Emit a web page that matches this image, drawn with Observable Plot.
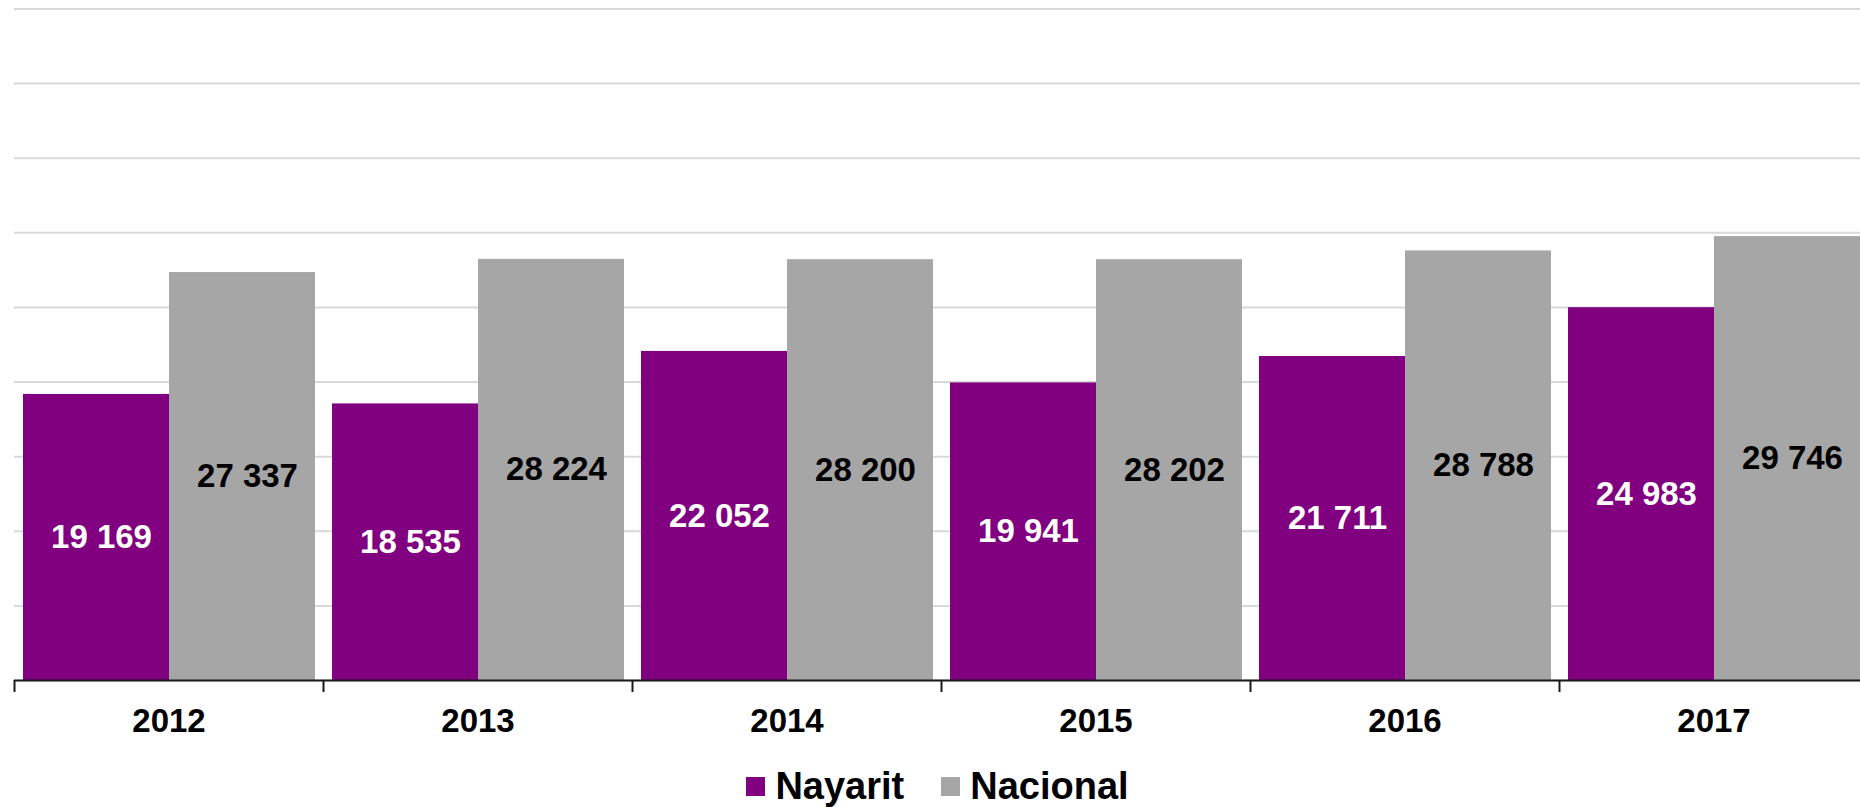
<!DOCTYPE html>
<html>
<head>
<meta charset="utf-8">
<script src="https://cdn.jsdelivr.net/npm/d3@7"></script>
<script src="https://cdn.jsdelivr.net/npm/@observablehq/plot@0.6"></script>
<style>
  html, body { margin: 0; padding: 0; background: #fff; overflow: hidden; }
  body { width: 1860px; height: 807px; font-family: "Liberation Sans", Arial, sans-serif; }
  #legend { height: 57px; box-sizing: border-box; padding-top: 14px; display: flex; justify-content: center; padding-left: 15px; font-weight: bold; font-size: 38px; color: #000; }
  .item { display: flex; align-items: center; height: 44px; }
  .sw { width: 19px; height: 19px; margin-right: 10px; }
  .item + .item { margin-left: 37px; }
</style>
</head>
<body>
<div id="chart"></div>
<div id="legend"></div>
<script>
const years = ["2012", "2013", "2014", "2015", "2016", "2017"];
const series = ["Nayarit", "Nacional"];
const nayarit = [19169, 18535, 22052, 19941, 21711, 24983];
const nacional = [27337, 28224, 28200, 28202, 28788, 29746];
const yTicks = [0, 5000, 10000, 15000, 20000, 25000, 30000, 35000, 40000, 45000];
const colors = ["#800080", "#A6A6A6"];
const labelColors = ["#ffffff", "#000000"];

const table = [];
years.forEach((yr, i) => {
  table.push({year: yr, series: "Nayarit", value: nayarit[i]});
  table.push({year: yr, series: "Nacional", value: nacional[i]});
});

const width = 1860, marginLeft = 14, marginRight = -8;
const step = (width - marginLeft - marginRight) / years.length;
const fmt = v => d3.format(",")(v).replace(/,/g, " ");

const chart = Plot.plot({
  width,
  height: 750,
  marginLeft,
  marginRight,
  marginTop: 8.5,
  marginBottom: 70,
  style: {fontFamily: "'Liberation Sans', Arial, sans-serif", background: "#fff"},
  fx: {domain: years, padding: 0, axis: null},
  x: {domain: series, paddingInner: 0, paddingOuter: 0.058, axis: null},
  y: {domain: [0, 45000], axis: null},
  color: {domain: series, range: colors},
  marks: [
    Plot.gridY(yTicks, {stroke: "#d9d9d9", strokeOpacity: 1, strokeWidth: 2}),
    Plot.barY(table, {fx: "year", x: "series", y: "value", fill: "series"}),
    Plot.text(table, {
      fx: "year", x: "series", y: d => d.value / 2,
      text: d => fmt(d.value),
      fill: d => labelColors[series.indexOf(d.series)],
      fontSize: 33, fontWeight: "bold", dx: 5
    }),
    Plot.ruleY([0], {stroke: "#1a1a1a", strokeWidth: 2}),
    Plot.axisFx({anchor: "bottom", tickSize: 0, tickPadding: 28, fontSize: 33, fontWeight: "bold", fill: "#000", label: null}),
    Plot.axisFx({anchor: "bottom", tickSize: 12, tickFormat: () => "", dx: -step / 2, stroke: "#1a1a1a", strokeWidth: 2, label: null})
  ]
});
document.getElementById("chart").appendChild(chart);

const legend = document.getElementById("legend");
series.forEach((s, i) => {
  const item = document.createElement("div");
  item.className = "item";
  const sw = document.createElement("div");
  sw.className = "sw";
  sw.style.background = colors[i];
  const t = document.createElement("span");
  t.textContent = s;
  item.appendChild(sw);
  item.appendChild(t);
  legend.appendChild(item);
});
</script>
</body>
</html>
